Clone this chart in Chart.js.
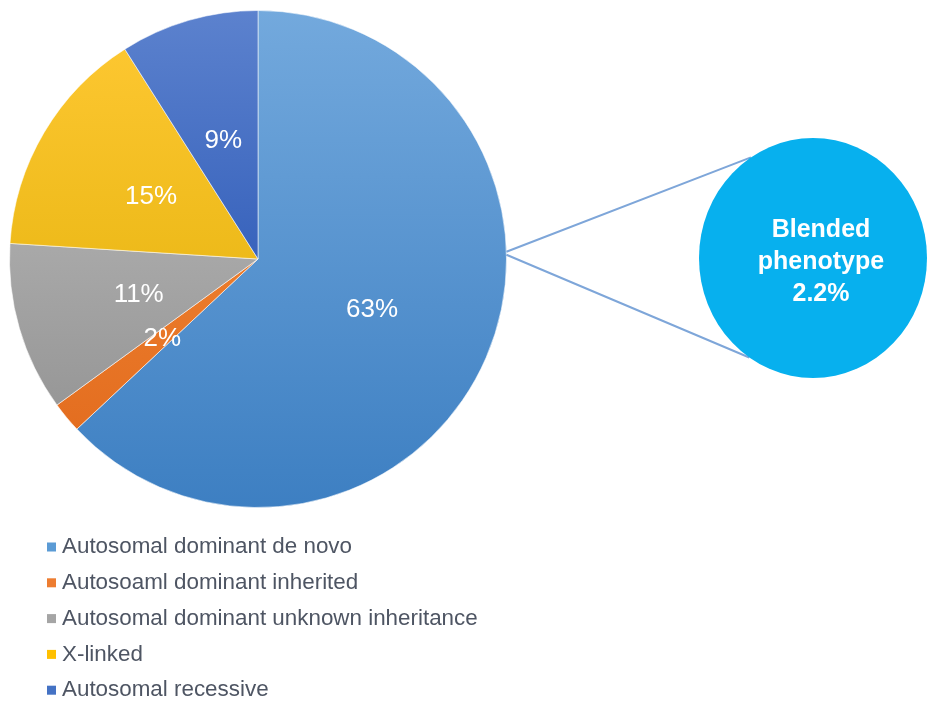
<!DOCTYPE html>
<html>
<head>
<meta charset="utf-8">
<script src="https://cdn.jsdelivr.net/npm/chart.js@4"></script>
<style>
  body { margin: 0; background: #fff; }
  #wrap { width: 936px; height: 702px; position: relative; }
</style>
</head>
<body>
<div id="wrap"><canvas id="myChart"></canvas></div>
<script>
// data
const categories = [
    'Autosomal dominant de novo',
    'Autosoaml dominant inherited',
    'Autosomal dominant unknown inheritance',
    'X-linked',
    'Autosomal recessive'
];
const shares = [63, 2, 11, 15, 9];
const blendedLines = ['Blended', 'phenotype'];
const blendedShare = 2.2;

// gradient colours, top of pie -> bottom of pie
const topColors = ['#73a9dd', '#f7923f', '#c2c2c2', '#ffc934', '#5c82ce'];
const bottomColors = ['#3d7fc2', '#e0671a', '#8c8c8c', '#dcab00', '#1343aa'];
const legendColors = ['#5b9bd5', '#ed7d31', '#a5a5a5', '#ffc000', '#4472c4'];

const FONT = '"Liberation Sans", Arial, sans-serif';

function sliceFill(context) {
    var chart = context.chart;
    var area = chart.chartArea;
    var i = context.dataIndex;
    if (!area) return legendColors[i];
    var g = chart.ctx.createLinearGradient(0, area.top, 0, area.bottom);
    g.addColorStop(0, topColors[i]);
    g.addColorStop(1, bottomColors[i]);
    return g;
}

const extras = {
    id: 'extras',
    afterDatasetsDraw(chart) {
        var ctx = chart.ctx;
        var arcs = chart.getDatasetMeta(0).data;

        // percentage labels inside the slices
        ctx.save();
        ctx.fillStyle = '#ffffff';
        ctx.font = '26px ' + FONT;
        ctx.textAlign = 'center';
        ctx.textBaseline = 'middle';
        arcs.forEach(function (arc, i) {
            var p = arc.tooltipPosition();
            ctx.fillText(shares[i] + '%', p.x, p.y + 1);
        });
        ctx.restore();

        // connector lines and blended phenotype bubble
        var a0 = arcs[0];
        var r = a0.outerRadius;
        var ax = a0.x + r * Math.cos(-0.025);
        var ay = a0.y + r * Math.sin(-0.025);
        var bx = 813, by = 258, rx = 114, ry = 120;
        var t1 = -123 * Math.PI / 180, t2 = 124 * Math.PI / 180;

        ctx.save();
        ctx.strokeStyle = '#7ea6d9';
        ctx.lineWidth = 2;
        ctx.beginPath();
        ctx.moveTo(ax, ay - 1);
        ctx.lineTo(bx + rx * Math.cos(t1), by + ry * Math.sin(t1));
        ctx.moveTo(ax, ay + 2);
        ctx.lineTo(bx + rx * Math.cos(t2), by + ry * Math.sin(t2));
        ctx.stroke();

        ctx.fillStyle = '#07b0ee';
        ctx.beginPath();
        ctx.ellipse(bx, by, rx, ry, 0, 0, Math.PI * 2);
        ctx.fill();

        ctx.fillStyle = '#ffffff';
        ctx.font = 'bold 25px ' + FONT;
        ctx.textAlign = 'center';
        ctx.textBaseline = 'middle';
        var lines = blendedLines.concat([blendedShare + '%']);
        lines.forEach(function (t, i) {
            ctx.fillText(t, bx + 8, 230 + i * 32);
        });
        ctx.restore();

        // legend
        ctx.save();
        ctx.font = '22.4px ' + FONT;
        ctx.textBaseline = 'middle';
        ctx.textAlign = 'left';
        categories.forEach(function (c, i) {
            var y = 547 + i * 35.8;
            ctx.fillStyle = legendColors[i];
            ctx.fillRect(47, y - 4.5, 9, 9);
            ctx.fillStyle = '#4e5563';
            ctx.fillText(c, 62, y);
        });
        ctx.restore();
    }
};

var context = document.getElementById('myChart').getContext('2d');

new Chart(context, {
    type: 'pie',
    data: {
        labels: categories,
        datasets: [{
            data: shares,
            backgroundColor: sliceFill,
            borderColor: 'rgba(255,255,255,0.55)',
            borderWidth: 1
        }]
    },
    options: {
        responsive: true,
        maintainAspectRatio: false,
        animation: false,
        layout: {
            padding: { left: 9, right: 429, top: 10, bottom: 194 }
        },
        plugins: {
            legend: { display: false },
            tooltip: { enabled: false }
        }
    },
    plugins: [extras]
});
</script>
</body>
</html>
